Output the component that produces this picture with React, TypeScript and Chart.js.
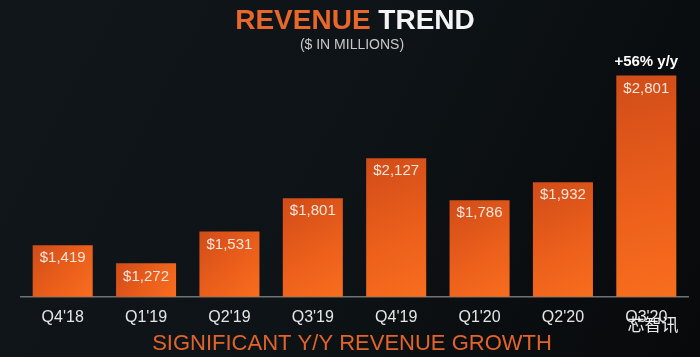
import React, { useEffect, useRef } from "react";
import { Chart, registerables } from "chart.js";

Chart.register(...registerables);

const categories = ["Q4'18", "Q1'19", "Q2'19", "Q3'19", "Q4'19", "Q1'20", "Q2'20", "Q3'20"];
const revenue = [1419, 1272, 1531, 1801, 2127, 1786, 1932, 2801];
const valueLabels = ["$1,419", "$1,272", "$1,531", "$1,801", "$2,127", "$1,786", "$1,932", "$2,801"];
const growthNote = "+56% y/y";
const titleA = "REVENUE";
const titleB = "TREND";
const subtitle = "($ IN MILLIONS)";
const footer = "SIGNIFICANT Y/Y REVENUE GROWTH";
const watermark = "芯智讯";

const FONT = "'Liberation Sans', Arial, Helvetica, sans-serif";
const ORANGE = "#e8672a";

const decorPlugin = {
  id: "decor",
  beforeDraw(chart: any) {
    const ctx = chart.ctx;
    ctx.save();
    const g = ctx.createLinearGradient(0, 0, chart.width, chart.height);
    g.addColorStop(0, "#10161a");
    g.addColorStop(0.5, "#0d1316");
    g.addColorStop(1, "#08090b");
    ctx.fillStyle = g;
    ctx.fillRect(0, 0, chart.width, chart.height);
    ctx.restore();
  },
  afterDatasetsDraw(chart: any) {
    const ctx = chart.ctx;
    const meta = chart.getDatasetMeta(0);
    ctx.save();
    ctx.textAlign = "center";
    ctx.textBaseline = "middle";
    ctx.font = `15px ${FONT}`;
    ctx.fillStyle = "#f6e6dc";
    meta.data.forEach((el: any, i: number) => {
      ctx.fillText(valueLabels[i], el.x, el.y + 13);
    });
    const last = meta.data[meta.data.length - 1];
    ctx.font = `bold 15px ${FONT}`;
    ctx.fillStyle = "#ffffff";
    ctx.fillText(growthNote, last.x, last.y - 14);
    ctx.restore();
  },
  afterDraw(chart: any) {
    const ctx = chart.ctx;
    const cx = 355;
    ctx.save();
    ctx.textBaseline = "middle";
    ctx.font = `bold 28px ${FONT}`;
    const wA = ctx.measureText(titleA + " ").width;
    const wB = ctx.measureText(titleB).width;
    const start = cx - (wA + wB) / 2;
    ctx.textAlign = "left";
    ctx.fillStyle = ORANGE;
    ctx.fillText(titleA, start, 21);
    ctx.fillStyle = "#f4f4f4";
    ctx.fillText(titleB, start + wA, 21);

    ctx.textAlign = "center";
    ctx.font = `14px ${FONT}`;
    ctx.fillStyle = "#c9c9c9";
    ctx.fillText(subtitle, 352, 45);

    ctx.font = `22px ${FONT}`;
    ctx.fillStyle = "#e2642b";
    ctx.fillText(footer, 352, 344);

    ctx.font = `17px 'Noto Sans CJK SC', sans-serif`;
    ctx.fillStyle = "rgba(255,255,255,0.92)";
    ctx.fillText(watermark, 653, 325);
    ctx.restore();
  },
};

export default function App() {
  const ref = useRef<HTMLCanvasElement | null>(null);
  useEffect(() => {
    if (!ref.current) return;
    const chart = new Chart(ref.current, {
      type: "bar",
      data: {
        labels: categories,
        datasets: [
          {
            data: revenue,
            borderWidth: 0,
            categoryPercentage: 1,
            barPercentage: 0.72,
            backgroundColor: (c: any) => {
              const ch = c.chart;
              const xs = ch.scales?.x;
              const ys = ch.scales?.y;
              if (!xs || !ys || c.dataIndex === undefined || !ch.chartArea) return "#e85e1c";
              const x = xs.getPixelForValue(c.dataIndex);
              const top = ys.getPixelForValue(revenue[c.dataIndex]);
              const bottom = ys.getPixelForValue(1000);
              if (![x, top, bottom].every(Number.isFinite)) return "#e85e1c";
              const g = ch.ctx.createLinearGradient(x - 30, top, x + 30, bottom);
              g.addColorStop(0, "#d04c19");
              g.addColorStop(0.5, "#e95d1b");
              g.addColorStop(1, "#f86e1e");
              return g;
            },
          },
        ],
      },
      options: {
        responsive: false,
        animation: false,
        layout: { padding: { left: 21, right: 12, top: 51, bottom: 19 } },
        plugins: {
          legend: { display: false },
          tooltip: { enabled: false },
          title: { display: false },
        },
        scales: {
          x: {
            grid: { display: false, drawTicks: false },
            border: { display: true, color: "#6f7274", width: 1.5 },
            ticks: {
              color: "#e6e6e6",
              font: { family: FONT, size: 16 },
              padding: 11,
            },
          },
          y: {
            display: false,
            min: 1000,
            max: 3000,
          },
        },
      },
      plugins: [decorPlugin],
    });
    return () => chart.destroy();
  }, []);
  return (
    <div style={{ position: "fixed", left: 0, top: 0, width: 700, height: 357 }}>
      <canvas ref={ref} width={700} height={357} />
    </div>
  );
}
